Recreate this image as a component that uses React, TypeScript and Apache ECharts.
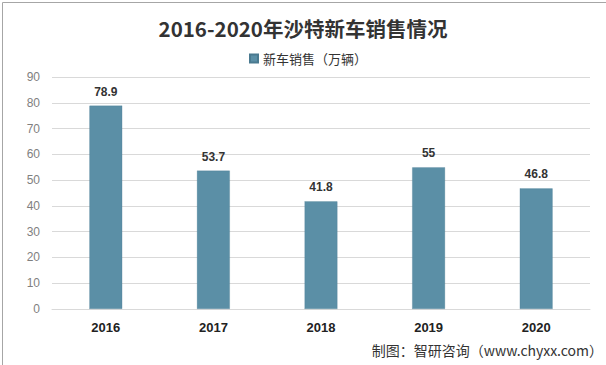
import React, { useEffect, useRef } from "react";
import * as echarts from "echarts";

const categories = ["2016", "2017", "2018", "2019", "2020"];
const sales = [78.9, 53.7, 41.8, 55, 46.8];
const seriesName = "新车销售（万辆）";
const titleText = "2016-2020年沙特新车销售情况";
const footerText = "制图：智研咨询（www.chyxx.com）";

export default function App() {
  const ref = useRef<HTMLDivElement>(null);
  useEffect(() => {
    document.body.style.margin = "0";
    const chart = echarts.init(ref.current!, null, { renderer: "svg" });
    chart.setOption({
      animation: false,
      backgroundColor: "#ffffff",
      title: {
        text: titleText,
        left: "center",
        top: 13,
        textStyle: { fontSize: 20.5, fontWeight: "bold", color: "#333333", fontFamily: "Noto Sans CJK SC" },
      },
      legend: {
        data: [seriesName],
        top: 47,
        left: 244,
        itemWidth: 8,
        itemHeight: 8,
        icon: "rect",
        itemGap: 4,
        textStyle: { fontSize: 13, color: "#333333", fontFamily: "Noto Sans CJK SC" },
      },
      grid: { left: 52, right: 16, top: 77, bottom: 56 },
      xAxis: {
        type: "category",
        data: categories,
        axisTick: { show: false },
        axisLine: { lineStyle: { color: "#d9d9d9" } },
        axisLabel: { fontSize: 13, fontWeight: "bold", color: "#222222", margin: 12 },
      },
      yAxis: {
        type: "value",
        min: 0,
        max: 90,
        interval: 10,
        axisLine: { show: false },
        axisTick: { show: false },
        axisLabel: { fontSize: 12, color: "#7f7f7f", margin: 12 },
        splitLine: { lineStyle: { color: "#d9d9d9" } },
      },
      series: [
        {
          name: seriesName,
          type: "bar",
          data: sales,
          barWidth: 33,
          itemStyle: { color: "#5b8fa6", borderColor: "#4a7a90", borderWidth: 0.5, borderType: "dotted" },
          label: {
            show: true,
            position: "top",
            distance: 8,
            fontSize: 12,
            fontWeight: "bold",
            color: "#333333",
          },
        },
      ],
      graphic: [
        {
          type: "rect",
          left: 0,
          top: 0,
          shape: { width: 605, height: 364 },
          style: { fill: "none", stroke: "#a6a6a6", lineWidth: 1 },
          silent: true,
        },
        {
          type: "text",
          right: 3,
          top: 343,
          style: { text: footerText, fontSize: 14, fill: "#333333", fontFamily: "Noto Sans CJK SC" },
        },
      ],
    });
    return () => chart.dispose();
  }, []);
  return <div ref={ref} style={{ position: "absolute", left: 0, top: 0, width: 606, height: 365 }} />;
}
